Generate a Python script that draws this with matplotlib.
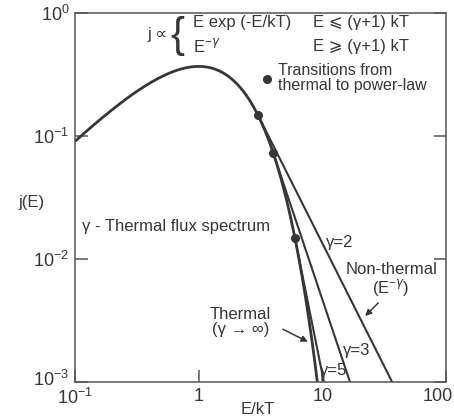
import numpy as np
import matplotlib
matplotlib.use("Agg")
import matplotlib.pyplot as plt
from matplotlib.transforms import ScaledTranslation

plt.rcParams['font.family'] = ['Liberation Sans', 'DejaVu Sans']
plt.rcParams['mathtext.fontset'] = 'custom'
plt.rcParams['mathtext.rm'] = 'Liberation Sans'

INK = '#363636'

# spectral indices of the power-law tails
gammas = [2, 3, 5]
gamma_labels = ['γ=2', 'γ=3', 'γ=5']
x_ticks = [0.1, 1, 10, 100]
x_tick_labels = ['$10^{-1}$', '1', '10', '100']
y_ticks = [1e-3, 1e-2, 1e-1, 1]
y_tick_labels = ['$10^{-3}$', '$10^{-2}$', '$10^{-1}$', '$10^{0}$']
e_min, e_max = 0.1, 100


def thermal(e):
    # j ~ E exp(-E/kT), energy in units of kT
    return e * np.exp(-e)


def power_tail(e, gamma):
    # E^-gamma tail joined to the thermal curve at E = (gamma+1) kT
    e0 = gamma + 1
    return thermal(e0) * (e / e0) ** (-gamma)


fig = plt.figure(figsize=(4.54, 4.2), dpi=100)
ax = fig.add_axes([75 / 454, 38 / 420, 371 / 454, 369 / 420])

e = np.logspace(np.log10(e_min), np.log10(e_max), 600)
ax.plot(e, thermal(e), color=INK, lw=2.0, solid_capstyle='butt')

for g in gammas:
    et = np.logspace(np.log10(g + 1), np.log10(e_max), 200)
    ax.plot(et, power_tail(et, g), color=INK, lw=1.5)
    ax.plot(g + 1, thermal(g + 1), 'o', color=INK, ms=5.5)

ax.set_xscale('log')
ax.set_yscale('log')
ax.set_xlim(e_min, e_max)
ax.set_ylim(1e-3, 1)
ax.set_xticks(x_ticks)
ax.set_xticklabels(x_tick_labels)
ax.set_yticks(y_ticks)
ax.set_yticklabels(y_tick_labels)
ax.minorticks_off()
ax.tick_params(direction='in', length=9, width=1.1, color='#555555',
               labelsize=13, labelcolor=INK, right=True)
ax.tick_params(axis='x', pad=4)
ax.tick_params(axis='y', pad=4)
for s in ax.spines.values():
    s.set_color('#555555')
    s.set_linewidth(1.1)


def nudge(label, dx, dy):
    # shift a tick label by a few pixels
    label.set_transform(label.get_transform()
                        + ScaledTranslation(dx / 100, dy / 100,
                                            fig.dpi_scale_trans))


nudge(ax.get_xticklabels()[-1], -8, 0)
nudge(ax.get_yticklabels()[0], 0, 4)

ax.set_xlabel('E/kT', fontsize=12, color=INK, va='center')
ax.xaxis.set_label_coords(183 / 371, -27 / 369)
ax.set_ylabel('j(E)', fontsize=12, color=INK, rotation=0, va='center')
ax.yaxis.set_label_coords(-44 / 371, 180 / 369)


def px(x, y):
    # pixel position in the figure -> data coordinates
    return 10 ** ((x - 200) / 124.0), 10 ** (-(y - 13) / 123.0)


fs = 12
ax.text(*px(149, 35), 'j ∝', fontsize=fs, color=INK, va='center', ha='left')
ax.text(*px(172, 36), '{', fontsize=30, color=INK, va='center', ha='left',
        fontweight='light')
ax.text(*px(194, 23), 'E exp (-E/kT)', fontsize=fs, color=INK, va='center')
ax.text(*px(315, 23), 'E ⩽ (γ+1) kT', fontsize=fs, color=INK, va='center')
ax.text(*px(194, 46), 'E$^{-γ}$', fontsize=fs, color=INK, va='center')
ax.text(*px(315, 46), 'E ⩾ (γ+1) kT', fontsize=fs, color=INK, va='center')

ax.plot(*px(269, 79), 'o', color=INK, ms=5.5)
ax.text(*px(280, 78), 'Transitions from\nthermal to power-law', fontsize=11.5,
        color=INK, va='center', linespacing=1.0)

ax.text(*px(83, 226), 'γ - Thermal flux spectrum', fontsize=fs, color=INK,
        va='center')

label_pos = [(328, 243), (345, 351), (322, 371)]
for lab, (x, y) in zip(gamma_labels, label_pos):
    ax.text(*px(x, y), lab, fontsize=fs, color=INK, va='center')

ax.text(*px(393, 280), 'Non-thermal\n(E$^{-γ}$)', fontsize=fs, color=INK,
        ha='center', va='center', linespacing=1.0)
ax.annotate('', xy=px(365, 318), xytext=px(382, 301),
            arrowprops=dict(arrowstyle='-|>', color=INK, lw=1.1,
                            mutation_scale=9))

ax.text(*px(242, 322), 'Thermal\n(γ → ∞)', fontsize=fs, color=INK,
        ha='center', va='center', linespacing=1.0)
ax.annotate('', xy=px(312, 343), xytext=px(282, 328),
            arrowprops=dict(arrowstyle='-|>', color=INK, lw=1.1,
                            mutation_scale=9))

fig.savefig('out.png', dpi=100, facecolor='white')
